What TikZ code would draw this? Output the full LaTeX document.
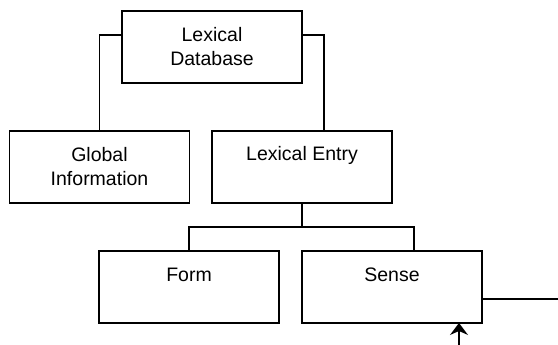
\documentclass[tikz,border=0pt]{standalone}
\usepackage{fontspec}
\setmainfont{Liberation Sans}
\usetikzlibrary{arrows.meta}
\begin{document}
\begin{tikzpicture}[x=1pt,y=-1pt,
  box/.style={draw,line width=1.3pt,minimum width=180pt,minimum height=72pt,inner sep=0pt,outer sep=0pt},
  lbl/.style={font=\fontsize{19.5}{24}\selectfont,align=center,inner sep=0pt},
  conn/.style={line width=1.3pt}]
\useasboundingbox (0,0) rectangle (558,345);
\node[box] (db) at (212,47) {};
\node[box] (gi) at (99.5,167) {};
\node[box] (le) at (302,167) {};
\node[box] (fo) at (189,287) {};
\node[box] (se) at (392,287) {};
\node[lbl] (tdb) at (db.center) {Lexical\\Database};
\node[lbl] (tgi) at (gi.center) {Global\\Information};
\node[lbl] (tle) at ([yshift=-24pt]le.north) {Lexical Entry};
\node[lbl] (tfo) at ([yshift=-24pt]fo.north) {Form};
\node[lbl] (tse) at ([yshift=-24pt]se.north) {Sense};
\coordinate (out) at (558,299);
\coordinate (src) at (459,345);
\coordinate (tgt) at (459,323);
\draw[conn] ([yshift=12pt]db.west) -| (gi.north);
\draw[conn] ([yshift=12pt]db.east) -| ([xshift=22pt]le.north);
\draw[conn] (le.south) -- ++(0,24) coordinate (mid);
\draw[conn] (fo.north) |- (mid) -| ([xshift=22pt]se.north);
\draw[conn] ([yshift=-12pt]se.east) -- (out);
\draw[conn,-{Stealth[length=12pt,width=18pt,inset=4pt]}] (src) -- (tgt);
\end{tikzpicture}
\end{document}
